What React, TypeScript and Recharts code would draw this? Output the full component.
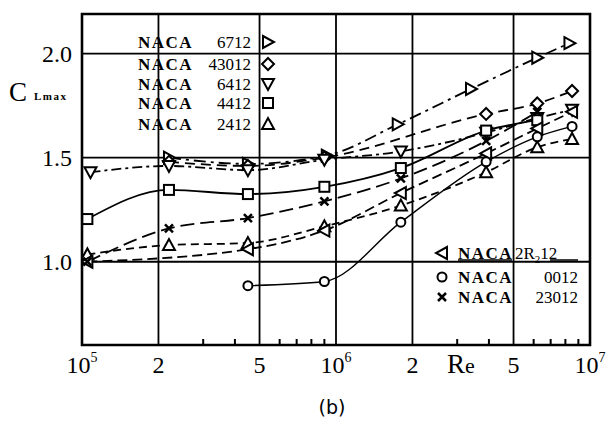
import React from 'react';
import { LineChart, Line, XAxis, YAxis, ReferenceLine, ReferenceArea } from 'recharts';

// Reynolds numbers and CLmax, one pair of arrays per section
const RE_6712 = [2.2e5, 4.5e5, 9.2e5, 1.75e6, 3.4e6, 6.2e6, 8.3e6];
const CL_6712 = [1.5, 1.47, 1.51, 1.66, 1.83, 1.98, 2.05];

const RE_43012 = [2.2e5, 4.5e5, 9e5, 3.9e6, 6.2e6, 8.5e6];
const CL_43012 = [1.48, 1.46, 1.5, 1.71, 1.76, 1.82];

const RE_6412 = [1.08e5, 2.2e5, 4.5e5, 9e5, 1.8e6, 3.9e6, 6.2e6, 8.5e6];
const CL_6412 = [1.43, 1.46, 1.44, 1.49, 1.53, 1.62, 1.69, 1.73];

const RE_4412 = [1.05e5, 2.2e5, 4.5e5, 9e5, 1.8e6, 3.9e6, 6.2e6];
const CL_4412 = [1.205, 1.345, 1.325, 1.36, 1.45, 1.63, 1.68];

const RE_2412 = [1.05e5, 2.2e5, 4.5e5, 9e5, 1.8e6, 3.9e6, 6.2e6, 8.5e6];
const CL_2412 = [1.035, 1.08, 1.09, 1.17, 1.27, 1.43, 1.55, 1.59];

const RE_2R212 = [1.05e5, 4.5e5, 9e5, 1.8e6, 3.9e6, 6.2e6, 8.5e6];
const CL_2R212 = [1.0, 1.06, 1.15, 1.33, 1.52, 1.64, 1.72];

const RE_0012 = [4.5e5, 9e5, 1.8e6, 3.9e6, 6.2e6, 8.5e6];
const CL_0012 = [0.885, 0.905, 1.19, 1.48, 1.6, 1.65];

const RE_23012 = [1.05e5, 2.2e5, 4.5e5, 9e5, 1.8e6, 3.9e6, 6.2e6];
const CL_23012 = [1.0, 1.16, 1.21, 1.29, 1.4, 1.58, 1.72];

const X_TICKS = [
  1e5, 2e5, 3e5, 4e5, 5e5, 6e5, 7e5, 8e5, 9e5,
  1e6, 2e6, 3e6, 4e6, 5e6, 6e6, 7e6, 8e6, 9e6, 1e7,
];
const X_GRID = [2e5, 5e5, 1e6, 2e6, 5e6];
const Y_TICKS = [1.0, 1.5, 2.0];

const zip = (re: number[], cl: number[]) => re.map((r, i) => ({ re: r, cl: cl[i] }));

const SERIF = '"Liberation Serif", "DejaVu Serif", serif';

type Shape = 'right' | 'left' | 'down' | 'up' | 'diamond' | 'square' | 'circle' | 'cross';

function Marker({ shape, cx, cy }: { shape: Shape; cx: number; cy: number }) {
  const st = { fill: '#fff', stroke: '#000', strokeWidth: 2 };
  switch (shape) {
    case 'right':
      return <path d={`M${cx - 5},${cy - 6}L${cx + 6},${cy}L${cx - 5},${cy + 6}Z`} {...st} />;
    case 'left':
      return <path d={`M${cx + 5},${cy - 6}L${cx - 6},${cy}L${cx + 5},${cy + 6}Z`} {...st} />;
    case 'down':
      return <path d={`M${cx - 6},${cy - 5}L${cx + 6},${cy - 5}L${cx},${cy + 6}Z`} {...st} />;
    case 'up':
      return <path d={`M${cx - 6},${cy + 5}L${cx + 6},${cy + 5}L${cx},${cy - 6}Z`} {...st} />;
    case 'diamond':
      return <path d={`M${cx},${cy - 6}L${cx + 6},${cy}L${cx},${cy + 6}L${cx - 6},${cy}Z`} {...st} />;
    case 'square':
      return <rect x={cx - 5} y={cy - 5} width={10} height={10} {...st} />;
    case 'circle':
      return <circle cx={cx} cy={cy} r={4.5} {...st} />;
    default:
      return (
        <path d={`M${cx - 4},${cy - 4}L${cx + 4},${cy + 4}M${cx + 4},${cy - 4}L${cx - 4},${cy + 4}`} stroke="#000" strokeWidth={2.5} />
      );
  }
}

const dotOf = (shape: Shape) => (p: any) => (
  <g key={`${shape}-${p.index}`}>
    <Marker shape={shape} cx={p.cx} cy={p.cy} />
  </g>
);

function XTick({ x, y, payload }: any) {
  const v = payload.value as number;
  const e = Math.floor(Math.log10(v) + 1e-9);
  const m = Math.round(v / Math.pow(10, e));
  if (m !== 1 && m !== 2 && m !== 5) {
    return <line x1={x} x2={x} y1={y} y2={y - 6} stroke="#000" strokeWidth={2} />;
  }
  return (
    <text x={x} y={y + 28} textAnchor="middle" fontFamily={SERIF} fontSize={24} fill="#000">
      {m === 1 ? (
        <>
          10
          <tspan fontSize={14} dy={-11}>
            {e}
          </tspan>
        </>
      ) : (
        m
      )}
    </text>
  );
}

const series: { re: number[]; cl: number[]; shape: Shape; dash?: string; w: number }[] = [
  { re: RE_6712, cl: CL_6712, shape: 'right', dash: '12 5 3 5', w: 1.8 },
  { re: RE_43012, cl: CL_43012, shape: 'diamond', dash: '10 6', w: 1.8 },
  { re: RE_6412, cl: CL_6412, shape: 'down', dash: '10 4 3 4', w: 1.8 },
  { re: RE_4412, cl: CL_4412, shape: 'square', w: 1.8 },
  { re: RE_2412, cl: CL_2412, shape: 'up', dash: '8 5', w: 1.8 },
  { re: RE_2R212, cl: CL_2R212, shape: 'left', dash: '10 5', w: 1.8 },
  { re: RE_0012, cl: CL_0012, shape: 'circle', w: 1.4 },
  { re: RE_23012, cl: CL_23012, shape: 'cross', dash: '14 6', w: 1.8 },
];

const legendTop = [
  { num: '6712', shape: 'right' as Shape },
  { num: '43012', shape: 'diamond' as Shape },
  { num: '6412', shape: 'down' as Shape },
  { num: '4412', shape: 'square' as Shape },
  { num: '2412', shape: 'up' as Shape },
];
const legendTopY = [42, 64, 84, 103, 124];

export default function App() {
  return (
    <div style={{ position: 'fixed', left: 0, top: 0, width: 608, height: 421, background: '#fff' }}>
      <LineChart width={608} height={421} margin={{ top: 14, right: 18, bottom: 36, left: 22 }}>
        <XAxis
          dataKey="re"
          type="number"
          scale="log"
          domain={[1e5, 1e7]}
          ticks={X_TICKS}
          allowDataOverflow
          axisLine={false}
          tickLine={false}
          tickSize={0}
          tickMargin={0}
          interval={0}
          height={40}
          tick={<XTick />}
        />
        <YAxis
          type="number"
          domain={[0.6, 2.19]}
          ticks={Y_TICKS}
          allowDataOverflow
          width={60}
          axisLine={false}
          tickLine={false}
          tickMargin={4}
          tickFormatter={(v: number) => v.toFixed(1)}
          tick={{ fontSize: 24, fontFamily: SERIF, fill: '#000' }}
        />
        {X_GRID.map((g) => (
          <ReferenceLine key={`x${g}`} x={g} stroke="#000" strokeWidth={1.8} />
        ))}
        {Y_TICKS.map((g) => (
          <ReferenceLine key={`y${g}`} y={g} stroke="#000" strokeWidth={1.8} />
        ))}
        <ReferenceArea x1={1e5} x2={1e7} y1={0.6} y2={2.19} fill="none" fillOpacity={0} stroke="#000" strokeWidth={2.6} />
        {series.map((s) => (
          <Line
            key={s.shape}
            data={zip(s.re, s.cl)}
            dataKey="cl"
            type="monotone"
            stroke="#000"
            strokeWidth={s.w}
            strokeDasharray={s.dash}
            dot={dotOf(s.shape)}
            activeDot={false}
            isAnimationActive={false}
          />
        ))}
      </LineChart>
      <svg width={608} height={421} style={{ position: 'absolute', left: 0, top: 0, pointerEvents: 'none' }}>
        <text x={9} y={101} fontFamily={SERIF} fontSize={27} fill="#000">
          C
        </text>
        <text x={34} y={100} fontFamily={SERIF} fontSize={11} fontWeight="bold" letterSpacing={1.5} fill="#000">
          Lmax
        </text>
        {legendTop.map((l, i) => (
          <g key={l.num}>
            <text x={138} y={legendTopY[i] + 6} fontFamily={SERIF} fontSize={17} fontWeight="bold" letterSpacing={1.5} fill="#000">
              NACA
            </text>
            <text x={251} y={legendTopY[i] + 6} textAnchor="end" fontFamily={SERIF} fontSize={17} fill="#000">
              {l.num}
            </text>
            <Marker shape={l.shape} cx={268} cy={legendTopY[i]} />
          </g>
        ))}
        <Marker shape="left" cx={442} cy={253} />
        <text x={458} y={259} fontFamily={SERIF} fontSize={17} fontWeight="bold" letterSpacing={1.5} fill="#000">
          NACA
        </text>
        <text x={515} y={259} fontFamily={SERIF} fontSize={17} fill="#000">
          2R<tspan fontSize={11} dy={4}>2</tspan>
          <tspan dy={-4}>12</tspan>
        </text>
        <line x1={458} x2={512} y1={260} y2={260} stroke="#000" strokeWidth={1.5} />
        <line x1={550} x2={578} y1={260} y2={260} stroke="#000" strokeWidth={1.5} />
        <Marker shape="circle" cx={442} cy={277} />
        <text x={458} y={283} fontFamily={SERIF} fontSize={17} fontWeight="bold" letterSpacing={1.5} fill="#000">
          NACA
        </text>
        <text x={578} y={283} textAnchor="end" fontFamily={SERIF} fontSize={17} fill="#000">
          0012
        </text>
        <Marker shape="cross" cx={442} cy={297} />
        <text x={458} y={303} fontFamily={SERIF} fontSize={17} fontWeight="bold" letterSpacing={1.5} fill="#000">
          NACA
        </text>
        <text x={578} y={303} textAnchor="end" fontFamily={SERIF} fontSize={17} fill="#000">
          23012
        </text>
        <text x={447} y={373} fontFamily={SERIF} fontSize={27} fill="#000">
          R<tspan fontSize={22}>e</tspan>
        </text>
        <text x={332} y={414} textAnchor="middle" fontFamily='"DejaVu Sans", sans-serif' fontSize={19} fill="#000">
          (b)
        </text>
      </svg>
    </div>
  );
}
